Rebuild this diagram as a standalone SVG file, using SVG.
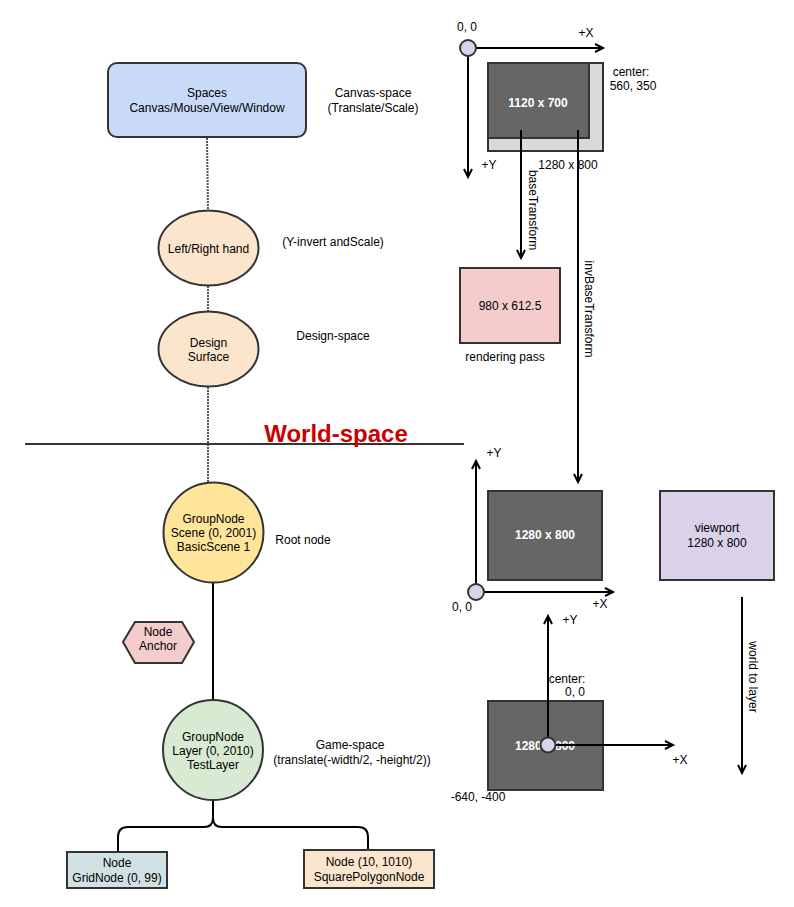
<svg xmlns="http://www.w3.org/2000/svg" width="794" height="907" viewBox="0 0 794 907">
<style>
text{font-family:"Liberation Sans",Arial,sans-serif;font-size:12px;fill:#000;text-anchor:middle}
.w{fill:#fff;font-weight:bold}
.node{stroke:#333;stroke-width:2}
.ln{stroke:#000;stroke-width:2;fill:none}
.dot{stroke:#555;stroke-width:2;stroke-dasharray:2 1;fill:none}
.ar{marker-end:url(#arr)}
</style>
<defs>
<marker id="arr" markerUnits="userSpaceOnUse" markerWidth="12" markerHeight="12" refX="9" refY="5" orient="auto">
<path d="M1,1 L9,5 L1,9" fill="none" stroke="#000" stroke-width="2"/>
</marker>
</defs>

<g id="connectors">
<line class="dot" x1="207" y1="138" x2="208" y2="210"/>
<line class="dot" x1="208" y1="286" x2="208" y2="312"/>
<line class="dot" x1="208" y1="387" x2="208" y2="483"/>
<line class="ln" x1="213" y1="583" x2="213" y2="700"/>
<path class="ln" d="M213,800 V818 Q213,827 204,827 H128 Q118,827 118,837 V852"/>
<path class="ln" d="M213,800 V818 Q213,827 222,827 H358 Q368,827 368,837 V850"/>
</g>

<g id="divider">
<line x1="25" y1="444" x2="464" y2="444" stroke="#333" stroke-width="2"/>
<text x="336" y="442" style="font-size:24px;font-weight:bold;fill:#cc0000">World-space</text>
</g>

<g id="spaces">
<rect class="node" x="108" y="63" width="198" height="74" rx="9" fill="#c9daf8"/>
<text x="207" y="97">Spaces</text>
<text x="207" y="112">Canvas/Mouse/View/Window</text>
</g>
<text x="373" y="97">Canvas-space</text>
<text x="373" y="112">(Translate/Scale)</text>

<g id="leftright">
<ellipse class="node" cx="208.5" cy="248" rx="50" ry="37.5" fill="#fce5cd"/>
<text x="208.5" y="253">Left/Right hand</text>
</g>
<text x="333" y="246">(Y-invert andScale)</text>

<g id="design">
<ellipse class="node" cx="208.5" cy="349" rx="50" ry="37.5" fill="#fce5cd"/>
<text x="208.5" y="347">Design</text>
<text x="208.5" y="361">Surface</text>
</g>
<text x="333" y="340">Design-space</text>

<g id="scene">
<circle class="node" cx="213.5" cy="532.5" r="50" fill="#ffe599"/>
<text x="213.5" y="523">GroupNode</text>
<text x="213.5" y="537">Scene (0, 2001)</text>
<text x="213.5" y="551">BasicScene 1</text>
</g>
<text x="303" y="544">Root node</text>

<g id="anchor">
<polygon class="node" points="123,642 135,622 182,622 194,642 182,663 135,663" fill="#f4cccc"/>
<text x="158" y="636">Node</text>
<text x="158" y="650">Anchor</text>
</g>

<g id="layer">
<circle class="node" cx="213" cy="750" r="50" fill="#d9ead3"/>
<text x="213" y="741">GroupNode</text>
<text x="213" y="755">Layer (0, 2010)</text>
<text x="213" y="769">TestLayer</text>
</g>
<text x="350" y="749">Game-space</text>
<text x="352" y="764">(translate(-width/2, -height/2))</text>

<g id="gridnode">
<rect class="node" x="67" y="852" width="100" height="36" fill="#d0e0e3"/>
<text x="117" y="867">Node</text>
<text x="117" y="882">GridNode (0, 99)</text>
</g>
<g id="squarenode">
<rect class="node" x="304" y="850" width="130" height="38" fill="#fce5cd"/>
<text x="369" y="866">Node (10, 1010)</text>
<text x="369" y="881">SquarePolygonNode</text>
</g>

<g id="canvas-axes">
<line class="ln ar" x1="476" y1="48" x2="603" y2="48"/>
<line class="ln ar" x1="468" y1="56" x2="468" y2="177"/>
<circle cx="468" cy="48" r="8" fill="#d9d2e9" stroke="#333" stroke-width="2"/>
<text x="467" y="31">0, 0</text>
<text x="586" y="37">+X</text>
<text x="489" y="169">+Y</text>
</g>
<g id="canvas-rect">
<rect class="node" x="488" y="63" width="115" height="88" fill="#d9d9d9"/>
<rect class="node" x="488" y="63" width="101" height="75" fill="#666"/>
<text class="w" x="538" y="107">1120 x 700</text>
<text x="568" y="169">1280 x 800</text>
<text x="631" y="76">center:</text>
<text x="633" y="90">560, 350</text>
</g>
<g id="transform-arrows">
<line class="ln ar" x1="521" y1="130" x2="521" y2="258"/>
<line class="ln ar" x1="578" y1="130" x2="578" y2="482"/>
<text transform="translate(529,210) rotate(90)">baseTransform</text>
<text transform="translate(585,309) rotate(90)">invBaseTransform</text>
</g>
<g id="render">
<rect class="node" x="460" y="268" width="100" height="75" fill="#f4cccc"/>
<text x="510" y="310">980 x 612.5</text>
</g>
<text x="505" y="361">rendering pass</text>

<g id="world-axes">
<line class="ln ar" x1="476" y1="584" x2="476" y2="461"/>
<line class="ln ar" x1="484" y1="592" x2="613" y2="592"/>
<circle cx="476" cy="592" r="8" fill="#d9d2e9" stroke="#333" stroke-width="2"/>
<text x="494" y="457">+Y</text>
<text x="600" y="608">+X</text>
<text x="462" y="611">0, 0</text>
</g>
<g id="world-rect">
<rect class="node" x="488" y="491" width="114" height="89" fill="#666"/>
<text class="w" x="545" y="539">1280 x 800</text>
</g>
<g id="viewport">
<rect class="node" x="660" y="491" width="114" height="89" fill="#d9d2e9"/>
<text x="717" y="532">viewport</text>
<text x="717" y="547">1280 x 800</text>
</g>
<g id="world-to-layer">
<line class="ln ar" x1="742" y1="597" x2="742" y2="773"/>
<text transform="translate(749,677) rotate(90)">world to layer</text>
</g>

<g id="layer-rect">
<rect class="node" x="488" y="701" width="115" height="89" fill="#666"/>
<text class="w" x="545" y="750">1280 x 800</text>
<line class="ln ar" x1="548" y1="738" x2="548" y2="616"/>
<line class="ln ar" x1="556" y1="745" x2="673" y2="745"/>
<circle cx="548" cy="745" r="7.5" fill="#d9d2e9" stroke="#333" stroke-width="2"/>
<text x="570" y="624">+Y</text>
<text x="567" y="683">center:</text>
<text x="575" y="696">0, 0</text>
<text x="680" y="764">+X</text>
<text x="478" y="801">-640, -400</text>
</g>
</svg>
